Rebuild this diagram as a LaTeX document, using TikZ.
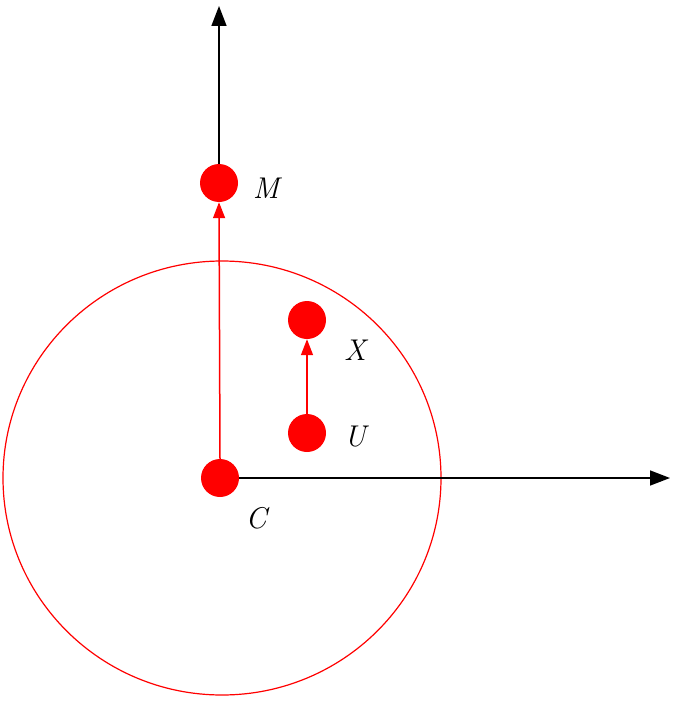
\documentclass[tikz,border=0pt]{standalone}
\usetikzlibrary{arrows.meta}
\begin{document}
\begin{tikzpicture}[x=1pt,y=-1pt,
  dot/.style={circle,fill=red,minimum width=38pt,minimum height=36pt,inner sep=0pt,draw=none},
  lab/.style={font=\fontsize{30}{32}\selectfont\itshape},
  blk/.style={line width=1.5pt,-{Triangle[length=20pt,width=15pt]}},
  rd/.style={red,line width=1.5pt,-{Triangle[length=16pt,width=12pt]}}]
\useasboundingbox (0,0) rectangle (685,701);
\draw[red,line width=1.2pt] (222,478) ellipse (219 and 217);
\node[dot] (C) at (220,478) {};
\node[dot] (M) at (219,183) {};
\node[dot] (X) at (307,320) {};
\node[dot] (U) at (307,433) {};
\coordinate (top) at (219,6);
\coordinate (right) at (670,481);
\draw[blk] (M.north) -- (top);
\draw[blk] (C.east) -- (right |- C.center);
\draw[rd] (C.north) -- (M.south);
\draw[rd] (U.north) -- (X.south);
\node[lab] at (266,188) {M};
\node[lab] at (355,350) {X};
\node[lab] at (355,437) {U};
\node[lab] at (256,518) {C};
\end{tikzpicture}
\end{document}
